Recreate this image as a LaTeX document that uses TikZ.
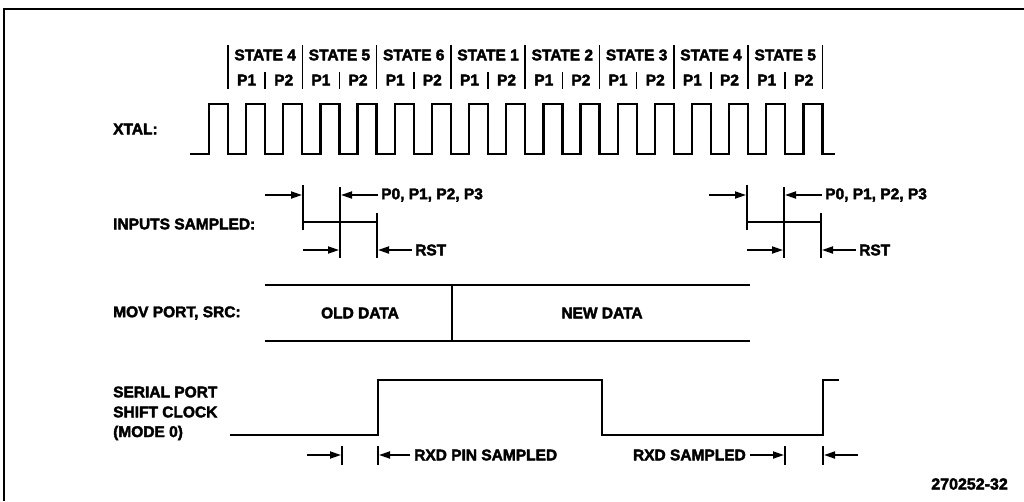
\documentclass[tikz,border=0pt]{standalone}
\usepackage{fontspec}
\newfontfamily\lab{Liberation Sans}[BoldFeatures={FakeBold=2.5}]
\usetikzlibrary{arrows.meta}
\tikzset{
  frame/.style={line width=1.6pt},
  wave/.style={line width=2.3pt, line join=miter},
  tick/.style={line width=1.6pt},
  mark line/.style={line width=2pt},
  dimarrow/.style={line width=1.8pt, -{Triangle[length=11pt,width=7pt]}},
  txt/.style={font=\lab\bfseries\fontsize{15.5}{17}\selectfont, inner sep=0pt},
  lbl/.style={txt, anchor=west},
}
\begin{document}
\begin{tikzpicture}[x=1pt,y=-1pt]
\useasboundingbox (0,0) rectangle (1024,501);
% frame
\coordinate (fTL) at (4,9);
\coordinate (fTR) at (1024,9);
\coordinate (fBL) at (4,501);
\draw[frame] (fTR) -- (fTL) -- (fBL);

% state / phase header
\foreach \j in {0,...,8} {
  \draw[tick] ({228+74.3*\j},45) -- ({228+74.3*\j},89);
}
\foreach \j in {0,...,7} {
  \draw[tick] ({265.15+74.3*\j},72) -- ({265.15+74.3*\j},89);
}
\foreach \n [count=\j from 0] in {4,5,6,1,2,3,4,5} {
  \node[txt] (st\j) at ({265.15+74.3*\j},55) {STATE \n};
  \node[txt] (pa\j) at ({246.6+74.3*\j},80) {P1};
  \node[txt] (pb\j) at ({283.7+74.3*\j},80) {P2};
}

% XTAL
\node[lbl] (xtal) at (113,129) {XTAL:};
\draw[wave] (190,154)
  \foreach \k in {0,...,16} {
    -- ({209+37.15*\k},154) -- ({209+37.15*\k},104)
    -- ({228+37.15*\k},104) -- ({228+37.15*\k},154)
  } -- (835,154);

% INPUTS SAMPLED
\node[lbl] (insam) at (113,224) {INPUTS SAMPLED:};
\foreach \o/\g in {0/L,444/R} {
  \begin{scope}[xshift=\o pt]
    \coordinate (v1t\g) at (303,185); \coordinate (v1b\g) at (303,230);
    \coordinate (v2t\g) at (340,187); \coordinate (v2b\g) at (340,258);
    \coordinate (v3t\g) at (377,213); \coordinate (v3b\g) at (377,258);
    \draw[mark line] (v1t\g) -- (v1b\g);
    \draw[mark line] (v2t\g) -- (v2b\g);
    \draw[mark line] (v3t\g) -- (v3b\g);
    \coordinate (hb1\g) at (303,222); \coordinate (hb2\g) at (377,222);
    \draw[wave] (hb1\g) -- (hb2\g);
    \coordinate (a1s\g) at (265,195); \coordinate (a1e\g) at (302,195);
    \coordinate (a2s\g) at (378,195); \coordinate (a2e\g) at (341,195);
    \coordinate (a3s\g) at (303,250); \coordinate (a3e\g) at (339,250);
    \coordinate (a4s\g) at (412,250); \coordinate (a4e\g) at (378,250);
    \draw[dimarrow] (a1s\g) -- (a1e\g);
    \draw[dimarrow] (a2s\g) -- (a2e\g);
    \draw[dimarrow] (a3s\g) -- (a3e\g);
    \draw[dimarrow] (a4s\g) -- (a4e\g);
    \node[lbl] (port\g) at (381,195) {P0, P1, P2, P3};
    \node[lbl] (rst\g) at (415,250) {RST};
  \end{scope}
}

% MOV PORT
\node[lbl] (mov) at (113,313) {MOV PORT, SRC:};
\coordinate (m1) at (265,285); \coordinate (m2) at (750,285);
\coordinate (m3) at (265,341); \coordinate (m4) at (750,341);
\coordinate (md1) at (452,285); \coordinate (md2) at (452,341);
\draw[wave] (m1) -- (m2);
\draw[wave] (m3) -- (m4);
\draw[wave] (md1) -- (md2);
\node[txt] (old) at (360,313) {OLD DATA};
\node[txt] (new) at (602,313) {NEW DATA};

% SERIAL PORT SHIFT CLOCK
\node[lbl] (sp1) at (113,392) {SERIAL PORT};
\node[lbl] (sp2) at (113,412) {SHIFT CLOCK};
\node[lbl] (sp3) at (113,433) {(MODE 0)};
\draw[wave] (230,435) -- (378,435) -- (378,380) -- (602,380) -- (602,435)
  -- (823,435) -- (823,380) -- (839,380);

% bottom markers
\coordinate (b1s) at (307,455); \coordinate (b1e) at (341,455);
\coordinate (b2s) at (410,455); \coordinate (b2e) at (379,455);
\coordinate (b3s) at (750,455); \coordinate (b3e) at (784,455);
\coordinate (b4s) at (858,455); \coordinate (b4e) at (824,455);
\foreach \x in {342,378,785,823} {
  \draw[tick] (\x,446) -- (\x,465);
}
\draw[dimarrow] (b1s) -- (b1e);
\draw[dimarrow] (b2s) -- (b2e);
\draw[dimarrow] (b3s) -- (b3e);
\draw[dimarrow] (b4s) -- (b4e);
\node[lbl] (rxdpin) at (414,455) {RXD PIN SAMPLED};
\node[txt, anchor=east] (rxd) at (746,455) {RXD SAMPLED};
\node[txt, anchor=east, font=\lab\fontsize{16}{18}\selectfont] (fig) at (1008,484) {\bfseries 270252-32};
\end{tikzpicture}
\end{document}
